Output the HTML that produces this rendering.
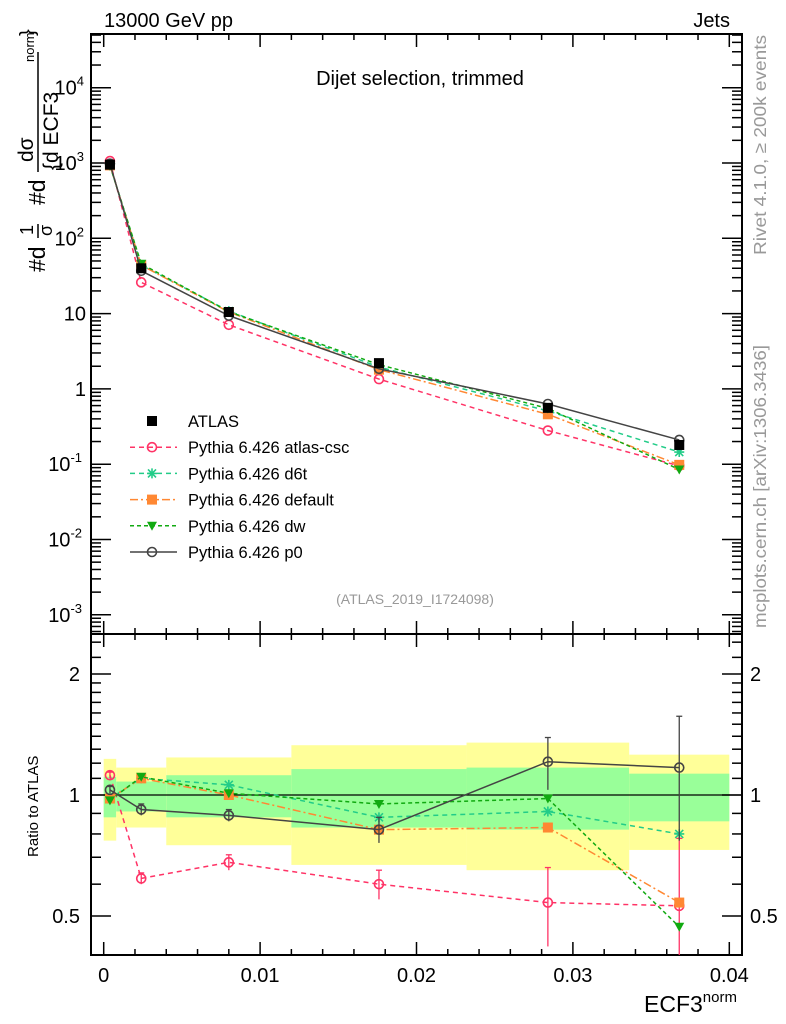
<!DOCTYPE html>
<html><head><meta charset="utf-8"><style>
html,body{margin:0;padding:0;background:#fff}
svg{display:block;font-family:"Liberation Sans",Arial,sans-serif}
</style></head><body>
<svg id="chart" width="786" height="1024" viewBox="0 0 786 1024" xmlns="http://www.w3.org/2000/svg">
<g id="bands"></g>
<g id="grid"></g>
<g id="series"></g>
<g id="labels">
<text x="104" y="27" font-size="20">13000 GeV pp</text>
<text x="730" y="27" font-size="20" text-anchor="end">Jets</text>
<text x="420" y="85" font-size="20" text-anchor="middle">Dijet selection, trimmed</text>
<text x="415" y="604" font-size="14" fill="#999" text-anchor="middle">(ATLAS_2019_I1724098)</text>
<text transform="translate(766,255) rotate(-90)" font-size="17.5" fill="#999" textLength="220" lengthAdjust="spacingAndGlyphs">Rivet 4.1.0, ≥ 200k events</text>
<text transform="translate(766,628) rotate(-90)" font-size="17.5" fill="#999" textLength="283" lengthAdjust="spacingAndGlyphs">mcplots.cern.ch [arXiv:1306.3436]</text>
<text transform="translate(38,857) rotate(-90)" font-size="15">Ratio to ATLAS</text>
<text x="644" y="1012" font-size="23">ECF3<tspan font-size="15" dy="-10">norm</tspan></text>
<g transform="translate(0,0) rotate(-90)" font-size="23">
<text x="-272" y="45">#d</text>
<text x="-235" y="33" font-size="18">1</text>
<line x1="-238" y1="38" x2="-224" y2="38" stroke="#000" stroke-width="1.5"/>
<text x="-236" y="52" font-size="18">σ</text>
<text x="-205" y="45">#d</text>
<text x="-162" y="33" font-size="21">dσ</text>
<line x1="-172" y1="38" x2="-52" y2="38" stroke="#000" stroke-width="1.5"/>
<text x="-170" y="58" font-size="21">{d ECF3</text>
<text x="-62" y="34" font-size="13">norm</text>
<text x="-36" y="34" font-size="20">}</text>
</g>
</g>
<g id="legend"></g>
</svg>
<script>
const xCenters = [0.0004, 0.0024, 0.008, 0.0176, 0.0284, 0.0368];
const binEdges = [0, 0.0008, 0.004, 0.012, 0.0232, 0.0336, 0.04];
const atlasVals = [950, 40, 10.5, 2.2, 0.56, 0.18];
const cscVals = [1060, 26, 7.1, 1.35, 0.28, 0.095];
const d6tVals = [930, 44, 10.8, 1.95, 0.51, 0.145];
const defaultVals = [930, 44, 10.5, 1.8, 0.46, 0.098];
const dwVals = [920, 46, 10.6, 2.1, 0.55, 0.085];
const p0Vals = [980, 37, 9.4, 1.85, 0.63, 0.21];
const cscRatio = [1.12, 0.62, 0.68, 0.60, 0.54, 0.53];
const d6tRatio = [0.98, 1.10, 1.06, 0.88, 0.91, 0.80];
const defaultRatio = [0.98, 1.10, 1.00, 0.82, 0.83, 0.54];
const dwRatio = [0.97, 1.11, 1.01, 0.95, 0.98, 0.47];
const p0Ratio = [1.03, 0.92, 0.89, 0.82, 1.21, 1.17];
const p0RatioErr = [0.02, 0.03, 0.03, 0.06, 0.18, 0.4];
const cscRatioErr = [0.02, 0.02, 0.03, 0.05, 0.12, 0.25];
const yellowHi = [1.23, 1.17, 1.24, 1.33, 1.35, 1.26];
const yellowLo = [0.77, 0.83, 0.75, 0.67, 0.65, 0.73];
const greenHi = [1.11, 1.08, 1.12, 1.16, 1.17, 1.13];
const greenLo = [0.88, 0.91, 0.88, 0.83, 0.82, 0.86];
const xTickLabels = ["0", "0.01", "0.02", "0.03", "0.04"];
const mainTickExps = [-3, -2, -1, 0, 1, 2, 3, 4];
const ratioTickLabels = ["0.5", "1", "2"];

const NS = "http://www.w3.org/2000/svg";
const L = 91, R = 742, T = 34, MB = 634, RB = 955;
const X = v => 103.7 + v * 15640;
const YM = v => 163 - (Math.log10(v) - 3) * 75.3;
const YR = v => 795 - Math.log2(v) * 121;
function mk(tag, attrs, parent) {
  const e = document.createElementNS(NS, tag);
  for (const k in attrs) e.setAttribute(k, attrs[k]);
  parent.appendChild(e);
  return e;
}
const bands = document.getElementById('bands');
const grid = document.getElementById('grid');
const series = document.getElementById('series');
const legend = document.getElementById('legend');

for (let i = 0; i < xCenters.length; i++) {
  const x1 = X(binEdges[i]), x2 = X(binEdges[i + 1]);
  const y = mk('rect', {x: x1, y: YR(yellowHi[i]), width: x2 - x1, height: YR(yellowLo[i]) - YR(yellowHi[i]), fill: '#ffff99'}, bands);
  
  
  const g = mk('rect', {x: x1, y: YR(greenHi[i]), width: x2 - x1, height: YR(greenLo[i]) - YR(greenHi[i]), fill: '#99ff99'}, bands);
  
  
}
mk('line', {x1: L, x2: R, y1: YR(1), y2: YR(1), stroke: '#000', 'stroke-width': 1.3}, grid);

mk('rect', {x: L, y: T, width: R - L, height: MB - T, fill: 'none', stroke: '#000', 'stroke-width': 2}, grid);
mk('rect', {x: L, y: MB, width: R - L, height: RB - MB, fill: 'none', stroke: '#000', 'stroke-width': 2}, grid);

for (let k = 0; k <= 20; k++) {
  const v = k * 0.002, x = X(v), maj = k % 5 === 0, len = maj ? 13 : 6;
  [[T, 1], [MB, -1], [MB, 1], [RB, -1]].forEach(([y0, d]) => mk('line', {x1: x, x2: x, y1: y0, y2: y0 + d * len, stroke: '#000', 'stroke-width': 1.5}, grid));
}
xTickLabels.forEach((s, i) => {
  const t = mk('text', {x: X(i * 0.01), y: 982, 'font-size': 20, 'text-anchor': 'middle'}, grid);
  t.textContent = s;
  
  
});
for (let e = -4; e <= 4; e++) {
  for (let m = 1; m <= 9; m++) {
    const v = m * Math.pow(10, e), y = YM(v);
    if (y < T || y > MB) continue;
    const len = m === 1 ? 20 : 10;
    mk('line', {x1: L, x2: L + len, y1: y, y2: y, stroke: '#000', 'stroke-width': 1.5}, grid);
    mk('line', {x1: R, x2: R - len, y1: y, y2: y, stroke: '#000', 'stroke-width': 1.5}, grid);
  }
}
mainTickExps.forEach(e => {
  const y = YM(Math.pow(10, e));
  const t = mk('text', {x: 86, y: y + 7, 'font-size': 20, 'text-anchor': 'end'}, grid);
  
  
  if (e === 0) t.textContent = '1';
  else if (e === 1) t.textContent = '10';
  else { t.textContent = '10'; const s = mk('tspan', {'font-size': 13, dy: -9}, t); s.textContent = String(e); t.setAttribute('x', e < 0 ? 82 : 84); }
});
[0.4, 0.5, 0.6, 0.7, 0.8, 0.9, 1, 1.1, 1.2, 1.3, 1.4, 1.5, 1.6, 1.7, 1.8, 1.9, 2, 2.2, 2.4].forEach(v => {
  const y = YR(v); if (y < MB || y > RB) return;
  const maj = [0.5, 1, 2].includes(v), len = maj ? 20 : 10;
  mk('line', {x1: L, x2: L + len, y1: y, y2: y, stroke: '#000', 'stroke-width': 1.5}, grid);
  mk('line', {x1: R, x2: R - len, y1: y, y2: y, stroke: '#000', 'stroke-width': 1.5}, grid);
});
ratioTickLabels.forEach(s => {
  const y = YR(parseFloat(s)) + 7;
  const a = mk('text', {x: 80, y: y, 'font-size': 20, 'text-anchor': 'end'}, grid); a.textContent = s;
  
  
  const b = mk('text', {x: 750, y: y, 'font-size': 20}, grid); b.textContent = s;
  
  
});

function marker(kind, x, y, color, g) {
  if (kind === 'sq') mk('rect', {x: x - 5, y: y - 5, width: 10, height: 10, fill: color}, g);
  else if (kind === 'circ') mk('circle', {cx: x, cy: y, r: 4.5, fill: 'none', stroke: color, 'stroke-width': 1.6}, g);
  else if (kind === 'tri') mk('path', {d: `M${x-5},${y-4}L${x+5},${y-4}L${x},${y+5}Z`, fill: color}, g);
  else if (kind === 'star') mk('path', {d: `M${x-5},${y}H${x+5}M${x},${y-5}V${y+5}M${x-4},${y-4}L${x+4},${y+4}M${x-4},${y+4}L${x+4},${y-4}`, stroke: color, 'stroke-width': 1.6}, g);
}
const defs = [
  {name: 'atlas-csc', label: 'Pythia 6.426 atlas-csc', c: '#ff3366', dash: '5,4', m: 'circ', main: cscVals, ratio: cscRatio, err: cscRatioErr},
  {name: 'd6t', label: 'Pythia 6.426 d6t', c: '#22cc88', dash: '5,4', m: 'star', main: d6tVals, ratio: d6tRatio},
  {name: 'default', label: 'Pythia 6.426 default', c: '#ff8833', dash: '8,3,2,3', m: 'sq', main: defaultVals, ratio: defaultRatio},
  {name: 'dw', label: 'Pythia 6.426 dw', c: '#11aa11', dash: '4,3', m: 'tri', main: dwVals, ratio: dwRatio},
  {name: 'p0', label: 'Pythia 6.426 p0', c: '#444444', dash: '', m: 'circ', main: p0Vals, ratio: p0Ratio, err: p0RatioErr}
];
defs.forEach(d => {
  const g = mk('g', {}, series);
  
  
  const lp = {fill: 'none', stroke: d.c, 'stroke-width': 1.5};
  if (d.dash) lp['stroke-dasharray'] = d.dash;
  mk('polyline', Object.assign({points: xCenters.map((x, i) => X(x) + ',' + YM(d.main[i])).join(' ')}, lp), g);
  mk('polyline', Object.assign({points: xCenters.map((x, i) => X(x) + ',' + Math.min(RB, YR(d.ratio[i]))).join(' ')}, lp), g);
  xCenters.forEach((x, i) => {
    marker(d.m, X(x), YM(d.main[i]), d.c, g);
    const yr = YR(d.ratio[i]);
    if (d.err) {
      const e = d.err[i];
      const y1 = YR(d.ratio[i] + e), y2 = Math.min(RB, YR(Math.max(0.3, d.ratio[i] - e)));
      mk('line', {x1: X(x), x2: X(x), y1: y1, y2: y2, stroke: d.c, 'stroke-width': 1.3}, g);
      mk('line', {x1: X(x) - 3, x2: X(x) + 3, y1: y1, y2: y1, stroke: d.c, 'stroke-width': 1.3}, g);
    }
    if (yr < RB) marker(d.m, X(x), yr, d.c, g);
  });
});
const ag = mk('g', {}, series);


xCenters.forEach((x, i) => marker('sq', X(x), YM(atlasVals[i]), '#000', ag));

const rows = [{label: 'ATLAS', c: '#000', m: 'sq', dash: null}].concat(defs.map(d => ({label: d.label, c: d.c, m: d.m, dash: d.dash})));
rows.forEach((r, i) => {
  const y = 421 + i * 26.2;
  const g = mk('g', {}, legend);
  
  
  if (r.dash !== null) {
    const a = {x1: 130, x2: 177, y1: y, y2: y, stroke: r.c, 'stroke-width': 1.5};
    if (r.dash) a['stroke-dasharray'] = r.dash;
    mk('line', a, g);
  }
  marker(r.m, 152, y, r.c, g);
  const t = mk('text', {x: 188, y: y + 6, 'font-size': 16.5}, g);
  t.textContent = r.label;
});
</script>
</body></html>
